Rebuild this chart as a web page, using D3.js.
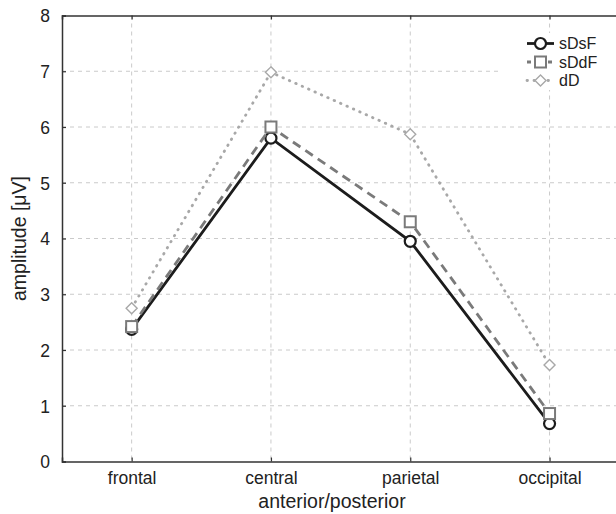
<!DOCTYPE html>
<html>
<head>
<meta charset="utf-8">
<script src="https://cdn.jsdelivr.net/npm/d3@7"></script>
<style>
  body { margin: 0; background: #fff; }
  text { font-family: "Liberation Sans", Arial, sans-serif; fill: #222; }
</style>
</head>
<body>
<div id="chart"></div>
<script>
// data
const regions = ['frontal', 'central', 'parietal', 'occipital'];
const sDsF = [2.37, 5.80, 3.95, 0.68];
const sDdF = [2.42, 6.00, 4.30, 0.86];
const dD = [2.75, 6.98, 5.87, 1.73];
const yTicks = [0, 1, 2, 3, 4, 5, 6, 7, 8];

const series = [
    { name: 'sDsF', values: sDsF, color: '#1c1c1c', dash: null, marker: 'circle', cap: 'butt' },
    { name: 'sDdF', values: sDdF, color: '#7a7a7a', dash: '9,6', marker: 'square', cap: 'butt' },
    { name: 'dD', values: dD, color: '#a8a8a8', dash: '0.5,6.5', marker: 'diamond', cap: 'round' }
];

const W = 616, H = 514;
const plotLeft = 62, plotTop = 15.5, plotBottom = 461.5;
const step = 139.3;

const svg = d3.select('#chart').append('svg')
    .attr('width', W).attr('height', H);

const x = d3.scaleLinear().domain([0.5, regions.length + 0.5]).range([plotLeft, plotLeft + step * regions.length]);
const y = d3.scaleLinear().domain([0, 8]).range([plotBottom, plotTop]);
const xr = i => x(i + 1);

// grid
const grid = svg.append('g').attr('stroke', '#cacaca').attr('stroke-width', 1).attr('stroke-dasharray', '4,4');
grid.selectAll('.hg').data(yTicks.slice(1, -1)).enter().append('line')
    .attr('x1', plotLeft).attr('x2', W).attr('y1', d => y(d)).attr('y2', d => y(d));
grid.selectAll('.vg').data(regions).enter().append('line')
    .attr('x1', (d, i) => xr(i)).attr('x2', (d, i) => xr(i)).attr('y1', plotTop).attr('y2', plotBottom);

// axes
const yAxis = d3.axisLeft(y).tickValues(yTicks).tickSize(-4).tickPadding(12);
const gy = svg.append('g').attr('transform', `translate(${plotLeft},0)`).call(yAxis);
const xAxis = d3.axisBottom(x).tickValues(regions.map((d, i) => i + 1))
    .tickFormat((d, i) => regions[i]).tickSize(-4).tickPadding(10);
const gx = svg.append('g').attr('transform', `translate(0,${plotBottom})`).call(xAxis);
const gt = svg.append('g').attr('transform', `translate(0,${plotTop})`)
    .call(d3.axisTop(x).tickValues(regions.map((d, i) => i + 1)).tickSize(-4).tickFormat(''));
[gy, gx, gt].forEach(g => {
    g.select('.domain').attr('stroke', '#333').attr('stroke-width', 1.5);
    g.selectAll('.tick line').attr('stroke', '#333').attr('stroke-width', 1.2);
    g.selectAll('.tick text').style('font-size', '17.5px').attr('fill', '#222')
        .style('font-family', '"Liberation Sans", Arial, sans-serif');
});
gy.selectAll('.tick text').attr('dy', '0.36em');

// axis titles
svg.append('text').attr('x', 332).attr('y', 508).attr('text-anchor', 'middle')
    .style('font-size', '19.5px').text('anterior/posterior');
svg.append('text').attr('transform', `translate(26,${y(4)}) rotate(-90)`).attr('text-anchor', 'middle')
    .style('font-size', '19.5px').text('amplitude [μV]');

function drawMarker(g, type, cx, cy, color) {
    if (type === 'circle') {
        g.append('circle').attr('cx', cx).attr('cy', cy).attr('r', 5.5)
            .attr('fill', '#fff').attr('stroke', color).attr('stroke-width', 2.2);
    } else if (type === 'square') {
        g.append('rect').attr('x', cx - 5.5).attr('y', cy - 5.5).attr('width', 11).attr('height', 11)
            .attr('fill', '#fff').attr('stroke', color).attr('stroke-width', 2);
    } else {
        const s = 5.5;
        g.append('path').attr('d', `M${cx},${cy - s}L${cx + s},${cy}L${cx},${cy + s}L${cx - s},${cy}Z`)
            .attr('fill', '#fff').attr('stroke', color).attr('stroke-width', 1.4);
    }
}

const line = d3.line().x((d, i) => xr(i)).y(d => y(d));
series.forEach(s => {
    const g = svg.append('g');
    g.append('path').attr('d', line(s.values)).attr('fill', 'none')
        .attr('stroke', s.color).attr('stroke-width', 2.8)
        .attr('stroke-dasharray', s.dash).attr('stroke-linecap', s.cap);
    s.values.forEach((v, i) => drawMarker(g, s.marker, xr(i), y(v), s.color));
});

// legend
const lg = svg.append('g');
lg.append('rect').attr('x', 500).attr('y', 33).attr('width', 116).attr('height', 57).attr('fill', '#fff');
series.forEach((s, i) => {
    const cy = 43.5 + i * 18.5;
    lg.append('line').attr('x1', 527).attr('x2', 554).attr('y1', cy).attr('y2', cy)
        .attr('stroke', s.color).attr('stroke-width', 2.8)
        .attr('stroke-dasharray', s.dash ? (s.name === 'dD' ? '0.5,6.5' : '4,3') : null)
        .attr('stroke-linecap', s.cap);
    drawMarker(lg, s.marker, 540.5, cy, s.color);
    lg.append('text').attr('x', 559).attr('y', cy).attr('dy', '0.36em')
        .style('font-size', '16px').text(s.name);
});
</script>
</body>
</html>
